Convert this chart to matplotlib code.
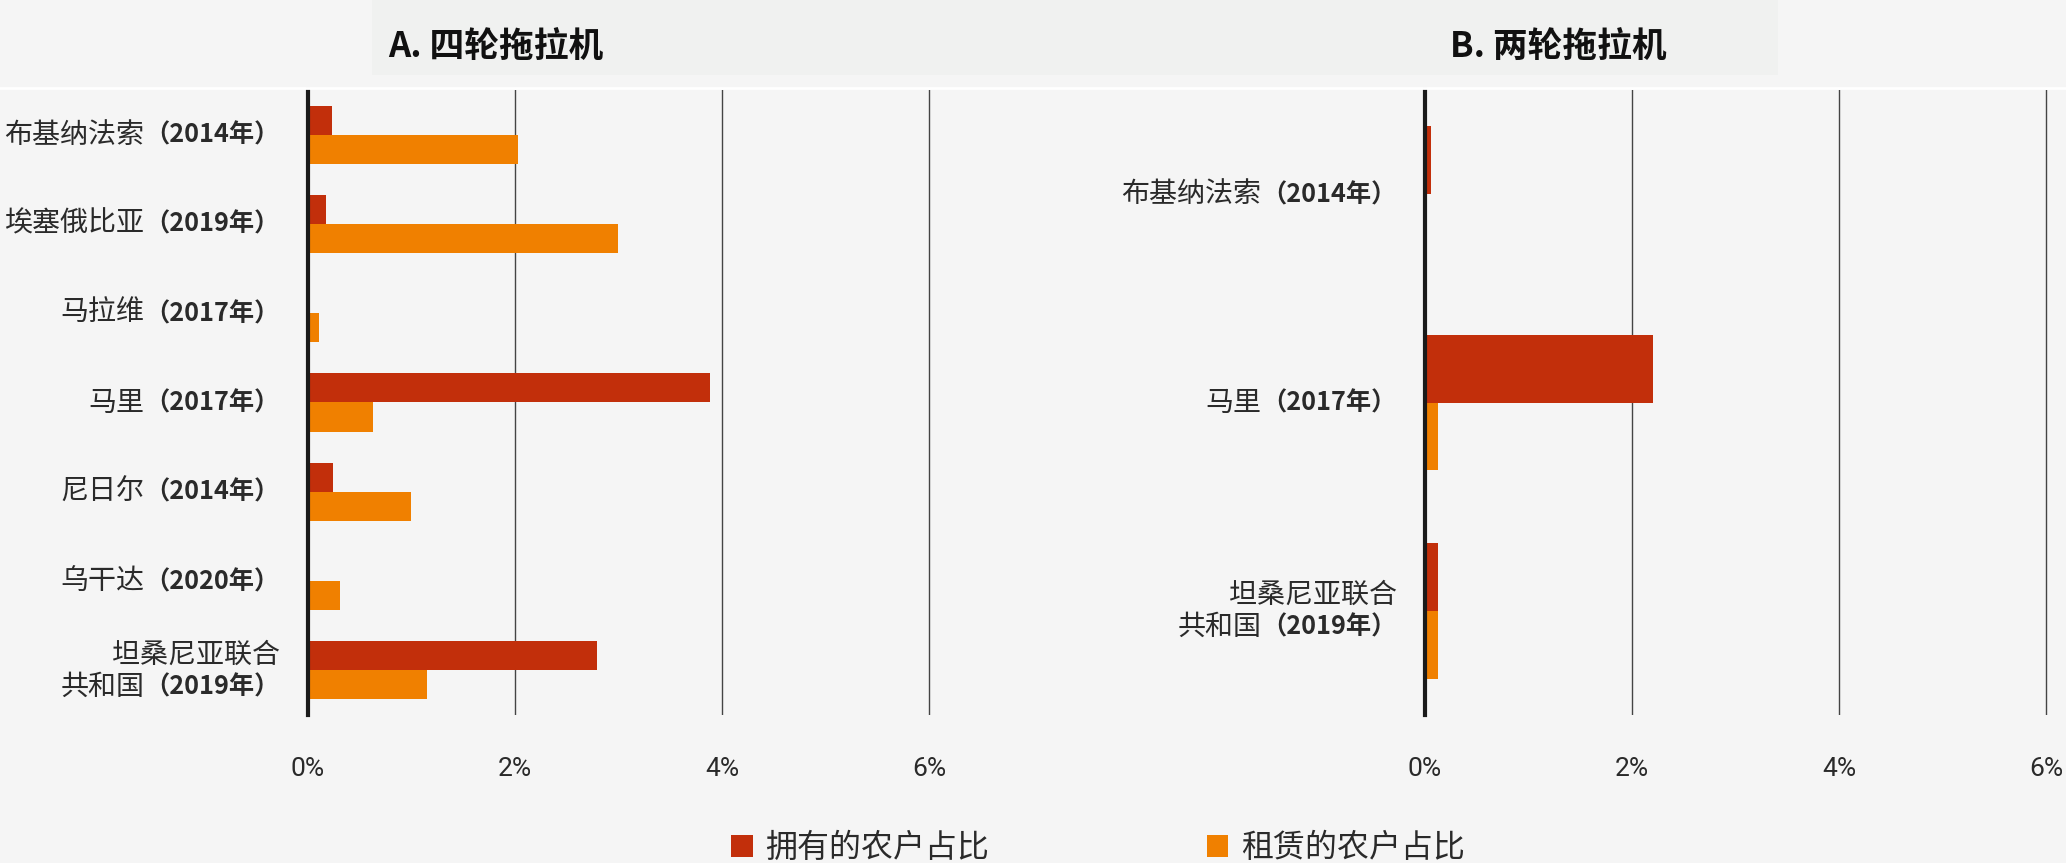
import matplotlib
matplotlib.use('Agg')
import matplotlib.pyplot as plt
import numpy as np
from matplotlib.patches import Patch, Rectangle
from matplotlib.lines import Line2D
from matplotlib.offsetbox import TextArea, HPacker, AnnotationBbox

plt.rcParams['font.family'] = ['Noto Sans CJK SC', 'DejaVu Sans']

# 数据
names_a = ['布基纳法索', '埃塞俄比亚', '马拉维', '马里', '尼日尔', '乌干达', '坦桑尼亚联合\n共和国']
years_a = ['2014', '2019', '2017', '2017', '2014', '2020', '2019']
owned_a = [0.23, 0.17, 0.0, 3.88, 0.24, 0.0, 2.79]
rented_a = [2.03, 3.0, 0.11, 0.63, 1.0, 0.31, 1.15]

names_b = ['布基纳法索', '马里', '坦桑尼亚联合\n共和国']
years_b = ['2014', '2017', '2019']
owned_b = [0.06, 2.2, 0.13]
rented_b = [0.0, 0.13, 0.13]

x_ticks = [0, 2, 4, 6]
x_tick_labels = ['0%', '2%', '4%', '6%']
titles = ['A. 四轮拖拉机', 'B. 两轮拖拉机']
legend_labels = ['拥有的农户占比', '租赁的农户占比']

c_owned = '#c22f0b'
c_rented = '#f08000'
bg = '#f5f5f5'
txt = '#2a2a2a'

W, H = 2066, 863
fig = plt.figure(figsize=(W / 100, H / 100), dpi=100, facecolor=bg)

# 标题背景条和分隔线
fig.patches.append(Rectangle((372 / W, 1 - 75 / H), (1778 - 372) / W, 75 / H,
                             transform=fig.transFigure, facecolor='#f0f1f0',
                             edgecolor='none', zorder=0))
fig.lines.append(Line2D([0, 1], [1 - 88 / H, 1 - 88 / H], transform=fig.transFigure,
                        color='white', lw=2))


def add_label(ax, y, name, year):
    # 国家名常规字重，年份加粗，右对齐
    lines = name.split('\n')
    n = len(lines)
    step = 11.5
    for i, line in enumerate(lines):
        parts = [TextArea(line, textprops=dict(fontsize=20.2, color=txt))]
        if i == n - 1:
            parts.append(TextArea('（' + year + '年）',
                                  textprops=dict(fontsize=18.2, color=txt, fontweight='bold')))
        box = HPacker(children=parts, pad=0, sep=0, align='baseline')
        dy = (n - 1) * step - i * 2 * step
        ab = AnnotationBbox(box, (0, y), xycoords=ax.get_yaxis_transform(),
                            xybox=(-20.5, dy), boxcoords='offset points',
                            box_alignment=(1, 0.5), frameon=False, pad=0,
                            annotation_clip=False)
        ax.add_artist(ab)


def draw_panel(left, names, years, owned, rented):
    ax = fig.add_axes([left / W, 1 - 715 / H, 652 / W, 625 / H])
    ax.set_facecolor(bg)
    y = np.arange(len(names))
    h = 0.325
    ax.barh(y - h / 2, owned, height=h, color=c_owned, zorder=2)
    ax.barh(y + h / 2, rented, height=h, color=c_rented, zorder=2)
    ax.set_xlim(0, 6.3)
    ax.set_ylim(len(names) - 0.5, -0.5)
    ax.set_xticks(x_ticks)
    ax.set_xticklabels(x_tick_labels, fontsize=19, family=['Roboto', 'DejaVu Sans'],
                       color=txt)
    ax.set_yticks([])
    ax.tick_params(axis='x', length=0, pad=30)
    ax.grid(axis='x', color='#444444', lw=1, zorder=1)
    ax.axvline(0, color='#1a1a1a', lw=3, zorder=3, clip_on=False)
    for s in ax.spines.values():
        s.set_visible(False)
    for yi, nm, yr in zip(y, names, years):
        add_label(ax, yi, nm, yr)
    return ax


ax_a = draw_panel(308, names_a, years_a, owned_a, rented_a)
ax_b = draw_panel(1425, names_b, years_b, owned_b, rented_b)

fig.text(496 / W, 1 - 47 / H, titles[0], ha='center', va='center',
         fontsize=25, fontweight='bold', color='#111111')
fig.text(1558 / W, 1 - 47 / H, titles[1], ha='center', va='center',
         fontsize=25, fontweight='bold', color='#111111')

handles = [Patch(facecolor=c_owned), Patch(facecolor=c_rented)]
fig.legend(handles, legend_labels, loc='upper left', bbox_to_anchor=(731 / W, 1 - 832 / H),
           ncol=2, frameon=False, fontsize=23, handlelength=0.68, handleheight=0.7,
           handletextpad=0.4, columnspacing=6.8, borderpad=0, borderaxespad=0,
           labelcolor=txt)

fig.savefig('out.png', dpi=100, facecolor=bg)
